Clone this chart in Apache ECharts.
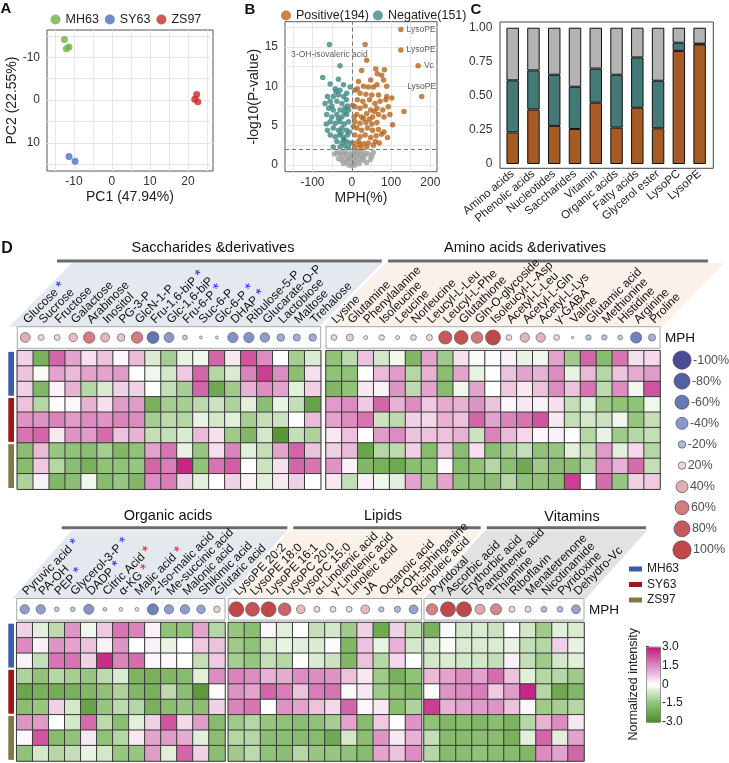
<!DOCTYPE html>
<html>
<head>
<meta charset="utf-8">
<title>Metabolite chart</title>
<script src="https://cdn.jsdelivr.net/npm/echarts@6.0.0/dist/echarts.min.js"></script>
<style>
html,body{margin:0;padding:0;background:#fff;}
#chart{width:729px;height:763px;}
</style>
</head>
<body>
<div id="chart"></div>
<script>
// ================= DATA =================
// ---- Panel A: PCA scores ----
const pcaMH63 = [[-12.5,-14.2],[-12.0,-12.0],[-11.3,-12.4]];
const pcaSY63 = [[-11.3,13.2],[-9.7,14.3]];
const pcaZS97 = [[22.3,-1.3],[21.8,-0.2],[22.6,0.4]];
const pcaXLabels = [-10,0,10,20];
const pcaYLabels = [-10,0,10];
const pcaXGrid = [-15,-10,-5,0,5,10,15,20,25];
const pcaYGrid = [-15,-10,-5,0,5,10,15];

// ---- Panel B: volcano (MPH %, -log10 P) ----
const volcanoPositive = [
 [34,15.3],[38,13.3],[25,12.0],[61,12.2],[83,12.1],[65,11.6],[76,11.4],[17,10.6],[48,10.8],[64,10.2],
 [81,10.8],[30,10.0],[42,9.9],[55,9.9],[89,10.0],[8,9.5],[21,9.1],[36,9.0],[51,8.9],[68,8.9],
 [89,8.7],[14,8.3],[28,8.1],[45,8.3],[59,7.8],[72,8.1],[87,8.3],[102,8.5],[8,7.4],[21,7.2],
 [34,7.5],[48,7.0],[64,7.2],[79,7.0],[93,7.4],[13,6.4],[25,6.1],[38,6.5],[53,6.1],[68,6.4],
 [82,6.1],[8,5.5],[21,5.3],[36,5.4],[51,5.2],[64,5.4],[13,4.7],[25,4.4],[40,4.7],[53,4.4],
 [68,4.5],[82,4.2],[8,3.8],[21,3.6],[34,3.8],[48,3.5],[62,3.7],[76,3.9],[91,3.5],[4,2.8],
 [17,3.0],[30,2.7],[42,2.8],[55,2.5],[70,2.8],[8,2.3],[23,2.2],[38,2.3],[4,4.9],[6,6.1],
 [14,9.7],[2,7.6],[104,5.1],[97,6.4],[133,6.8],[30,5.9],[45,5.8],[58,6.8],[19,2.6],[60,3.0]
];
const volcanoLabeledPos = [['LysoPE',125,17.2],['LysoPE',125,14.6],['Vc',169,12.6],['LysoPE',178,8.7]];
const volcanoNegative = [
 [-30,12.6],[-74,11.1],[-34,10.9],[-4,9.9],[-55,10.3],[-42,9.7],[-30,9.5],[-21,10.2],[-62,8.7],[-47,8.7],
 [-34,8.9],[-21,8.7],[-13,9.1],[-68,7.8],[-55,8.1],[-38,8.1],[-25,7.8],[-14,8.3],[-59,7.2],[-47,7.0],
 [-30,7.0],[-17,7.2],[-8,7.0],[-64,6.4],[-51,6.1],[-38,6.4],[-25,6.1],[-13,6.4],[-65,5.2],[-55,5.5],
 [-42,5.3],[-30,5.5],[-19,5.2],[-8,5.5],[-62,4.4],[-47,4.7],[-34,4.4],[-25,4.7],[-14,4.4],[-6,4.2],
 [-55,3.8],[-42,3.6],[-31,3.8],[-21,3.5],[-11,3.8],[-38,3.0],[-25,2.8],[-14,3.0],[-4,2.8],[-30,2.3],
 [-17,2.4],[-8,2.2],[-47,2.3],[-21,3.2],[-34,5.9],[-19,6.7],[-11,7.5],[-51,7.5],[-40,9.3],[-27,4.1]
];
const volcanoLabeledNeg = [['3-OH-isovaleric acid',-57,15.3]];
const volcanoNS = [
 [-38,1.6],[-30,1.3],[-21,1.1],[-13,1.4],[-4,1.1],[4,1.4],[13,1.1],[21,1.3],[31,1.1],[42,1.4],
 [51,1.1],[-25,0.6],[-14,0.4],[-6,0.7],[3,0.3],[11,0.6],[19,0.2],[30,0.6],[38,0.3],[-17,1.7],
 [8,1.7],[25,1.7],[-34,0.8],[-8,0.0],[0,-0.1],[8,0.0],[-21,0.2],[21,0.7],[47,0.7],[-44,1.4],
 [55,1.6],[4,0.8],[14,1.6],[-11,0.8],[-2,1.5],[27,1.0],[35,1.5],[-27,1.6]
];
const volcanoXLabels = [-100,0,100,200];
const volcanoYLabels = [0,5,10,15];
const volcanoXGrid = [-150,-100,-50,0,50,100,150,200];
const volcanoYGrid = [0,2.5,5,7.5,10,12.5,15,17.5];
const mphCut = 0;
const pCut = 2;

// ---- Panel C: proportions ----
const compCategories = ['Amino acids','Phenolic acids','Nucleotides','Saccharides','Vitamin','Organic acids','Fatty acids','Glycerol ester','LysoPC','LysoPE'];
const compPositive = [0.232,0.400,0.280,0.257,0.450,0.267,0.413,0.262,0.830,0.878];
const compNegative = [0.382,0.287,0.375,0.310,0.250,0.388,0.369,0.349,0.060,0.005];
const compOther    = [0.386,0.313,0.345,0.433,0.300,0.345,0.218,0.389,0.110,0.117];
const compYLabels = [0,0.25,0.5,0.75,1];

// ---- Panel D: heatmap ----
const groupNames = ['MH63','SY63','ZS97'];

const saccNames = ['Glucose','Sucrose','Fructose','Galactose','Arabinose','Inositol','PG-3-P','GlcN-1-P','Fru-1,6-biP','Glc-1,6-biP','Fru-6-P','Suc-6-P','Glc-6-P','DHAP','Ribulose-5-P','Glucarate-O-P','Lactobiose','Maltose','Trehalose'];
const saccMPH = [40,18,18,32,60,35,28,60,-65,-40,-13,-4,-4,-45,-45,-38,-27,-25,-27];
const saccSig = ['b','','','','','','','','b','','b','','b','b','','','','',''];
const saccRows = [
 [0.6,-2,2,1.2,0.4,0.8,0.1,0.9,-0.5,-1.2,-0.3,-0.2,2,0.3,2.2,1.5,0,-1.2,-0.5],
 [0.8,-0.1,1.2,0.9,1.2,1.2,1.3,0,-0.2,-0.6,0.7,2.0,-1,-0.5,1.6,2.5,1.5,-1.6,0.4],
 [0.6,-1.8,0.2,1.0,-1.0,-0.5,0.6,0.6,0,-0.8,-1.2,2.0,-2.2,-1.3,1.0,1.5,1.2,-0.4,0.6],
 [0.8,-1.0,0,0.1,1.0,0.4,1.3,1.3,-2.0,-1.2,-1.2,-0.9,-0.7,-1.1,-0.4,-1.6,-0.3,-0.8,-2.4],
 [1.4,1.4,1.6,1.3,1.5,1.4,1.6,1.5,-1.2,-0.9,-1.0,-0.3,-0.6,-0.4,-1.2,-0.8,-0.7,0,0.9],
 [1.8,2.0,0.3,1.4,1.3,1.9,0.8,1.0,-0.8,-0.8,-0.5,0.9,0.4,-1.3,-1.8,-0.6,-2.7,-0.8,-1.1],
 [-1.6,0.9,-1.4,-1.5,-1.6,-1.2,-1.8,-1.5,1.2,1.8,-0.3,-1.4,0.4,1.6,-0.4,-0.8,1.2,2.0,0.8],
 [-1.7,0.7,-1.0,-1.6,-2.0,-1.5,-1.5,-1.4,2.0,1.7,2.8,-1.5,1.8,2.1,0,-0.7,0.4,2.0,1.8],
 [-1.1,0.2,-1.8,-1.6,-0.2,-1.7,-1.4,-1.8,1.5,1.7,0.6,-0.4,0,0.6,0.2,-0.4,0.3,0.6,0]
];

const aminoNames = ['Lysine','Glutamine','Phenylalanine','Isoleucine','Leucine','Norleucine','Leucyl-L-Leu','Leucyl-L-Phe','Glutathione','Gln-O-glycoside','Isoleucyl-L-Asp','Acetyl-L-Leu','Acetyl-L-Gln','Acetyl-L-Lys','γ-GABA','Valine','Glutamic acid','Methionine','Histidine','Arginine','Proline'];
const aminoMPH = [18,25,9,17,9,18,20,80,87,62,100,18,37,37,18,-2,-16,-16,-13,-55,-25];
const aminoSig = aminoNames.map(() => '');
const aminoRows = [
 [-1.5,-0.9,0.8,-0.6,-0.2,-1.8,1.2,-1.3,0.4,-0.1,0.05,0.2,-0.3,-0.2,1.2,-1.3,2.0,-1.7,1.8,0.4,0.5],
 [-1.5,-1.5,0,0.9,1.3,-1.0,1.0,-1.6,1.2,-0.3,0,0.8,1.2,1.0,1.5,-0.3,0.9,-1.0,0.8,1.1,1.3],
 [-1.8,-1.5,0.3,0.2,1.4,-0.9,1.2,-1.7,-0.2,1.2,0,0.7,0.3,0.8,1.5,0.8,1.8,-0.9,1.5,-0.2,2.2],
 [1.3,1.5,0.7,2.0,1.0,1.5,0.7,1.1,1.0,1.4,0.8,0.1,0.3,0.2,0.4,-0.8,-0.4,-1.3,-1.5,-1.5,-0.2],
 [1.2,1.5,1.8,-0.7,-0.9,0.6,0.5,1.0,0.8,2.0,1.2,1.6,1.8,2.2,0.3,-0.8,-0.6,-0.7,-0.2,-1.4,-0.8],
 [0.3,0.8,0,1.3,1.5,0.8,0.8,0.8,1.0,-0.7,1.6,0.9,0.5,0.1,0.2,0,-1.0,-0.3,-1.3,-1.0,-0.8],
 [0.6,0.9,-2.3,-1.0,-0.9,0.6,-1.7,0.7,-1.6,0.4,-1.6,-1.2,-0.8,-1.5,-1.4,-0.4,-0.8,1.3,-0.4,0.5,-1.0],
 [1.4,0.2,-1.8,-2.0,-2.2,-1.6,-1.5,0.05,-1.7,-1.5,-1.0,-1.6,-2.2,-1.3,-1.6,-1.6,-1.0,1.5,1.0,1.9,-0.8],
 [0.3,-0.8,0.2,-0.2,-0.4,1.2,-1.3,1.2,-1.5,-1.5,-1.6,-1.0,-1.5,-1.5,-1.6,2.5,0,1.9,-1.4,0.6,0.7]
];

const organicNames = ['Pyruvic acid','PA-OH','PEP','Glycerol-3-P','DADP','Citric Acid','α-KG','Malic acid','2-Iso-malic acid','Me-succinic acid','Malonic acid','Shikimic acid','Glutaric acid'];
const organicMPH = [-37,-37,-13,-13,-42,-8,8,8,-55,-37,-37,-33,22];
const organicSig = ['b','','b','b','b','r','r','r','','','','',''];
const organicRows = [
 [0.6,-0.4,-0.9,1.4,-0.2,0.7,1.8,1.6,0.2,-1.5,-1.5,1.2,-1.0],
 [1.5,0.2,1.4,1.2,0.8,0.2,1.4,0,0.2,-0.3,0,0.7,0.8],
 [0.2,-0.8,1.8,1.8,0.6,2.7,1.6,1.9,0.1,0.1,0,-0.8,0.7],
 [-1.1,-1.5,-1.0,-1.2,-1.4,-0.9,-0.5,-1.9,-2.0,-1.8,-1.7,-0.4,1.5],
 [-2.3,-2.0,-2.1,-2.0,-1.8,-1.5,-1.1,-1.8,-2.0,-0.9,-1.6,-2.6,0.05],
 [-1.6,-1.4,0.6,-0.6,-2.4,-1.4,-0.9,-1.0,-2.0,-1.6,-1.4,-1.6,0.6],
 [1.4,1.3,0,-0.6,1.9,-0.9,-1.6,-0.4,0.6,2.2,0.5,1.3,-1.7],
 [0.1,2.2,-1.7,-1.5,0.3,-1.5,-1.0,0.3,1.2,1.3,1.1,-0.4,-1.6],
 [-1.5,-0.6,-1.0,-0.8,-0.3,-0.6,-1.4,-1.4,1.3,-0.4,2.0,0.6,-1.6]
];

const lipidNames = ['LysoPE 20:2','LysoPE 18:0','LysoPE 16:1','LysoPC 20:0','LysoPC 15:0','α-Linolenic acid','γ-Linolenic acid','Linoleic acid','JA','Octanoic acid','4-OH-sphinganine','Ricinoleic acid'];
const lipidMPH = [100,88,100,74,34,19,19,19,34,-16,-20,-34];
const lipidSig = lipidNames.map(() => '');
const lipidRows = [
 [-1.4,-1.6,0.1,-0.4,0,-0.8,-0.6,-1.3,0.6,-2.2,0.6,-0.8],
 [-1.3,-1.5,-0.6,-0.3,-0.4,-0.5,0.05,-1.8,0.8,-0.3,1.0,-0.6],
 [-1.2,-1.4,-0.8,-1.0,0,-0.5,-0.7,-1.8,0.8,-1.0,0.5,0],
 [1.6,1.5,1.0,1.1,1.5,1.5,1.4,0.8,0.3,-1.3,-2.0,-1.5],
 [1.4,1.2,2.0,1.7,0.8,1.7,1.8,0.1,0.3,-1.3,-1.6,-1.8],
 [1.6,1.8,0,1.4,1.2,0.8,0.5,2.0,0.1,0.3,-1.6,-1.1],
 [-1.3,-1.0,-1.4,-1.5,-1.6,-1.5,-1.2,1.2,-1.7,0.7,0,1.4],
 [-1.0,-1.0,-1.6,-1.6,-1.7,-1.7,-2.2,-0.6,-1.6,1.4,0.3,1.0],
 [-1.3,-0.9,-1.5,-1.6,-1.0,-1.4,-1.4,-1.5,-1.7,1.2,0.8,1.5]
];

const vitaminNames = ['Pyridoxal','Ascorbic acid','Erythorbic acid','Pantothenic acid','Thiamine','Riboflavin','Menatetrenone','Nicotinamide','Pyridoxine','Dehydro-Vc'];
const vitaminMPH = [58,100,100,42,55,20,20,-18,-18,-34];
const vitaminSig = vitaminNames.map(() => '');
const vitaminRows = [
 [-2.0,-0.1,-0.6,-0.5,-0.7,0,-0.6,-1.3,-0.4,-0.5],
 [-0.5,-0.1,-0.5,-0.5,-0.5,-0.3,-0.8,-1.0,0.6,-0.3],
 [-0.6,-0.5,-0.6,-0.6,-0.8,0.2,-0.8,-1.3,-0.6,-0.4],
 [0.9,1.2,1.5,1.2,1.9,0.8,-0.4,-1.0,-1.0,-1.3],
 [0.05,1.4,1.5,1.7,0.7,1.3,2.8,-1.0,-2.2,-1.8],
 [2.5,1.0,1.2,1.3,1.4,0.8,0.1,-1.3,-1.2,-1.0],
 [-1.5,-1.8,-1.7,-1.8,-1.6,-1.9,-1.0,1.0,1.5,0.3],
 [-0.8,-1.7,-1.7,-1.6,-1.6,-2.0,-0.4,2.0,-0.4,1.2],
 [-1.0,-1.7,-1.6,-1.5,-1.6,-1.7,-1.8,1.5,1.2,2.0]
];

const mphLegendValues = [-100,-80,-60,-40,-20,20,40,60,80,100];
const intensityTicks = [-3,-1.5,0,1.5,3];

// ================= STYLE / HELPERS =================
const FONT = '"Liberation Sans", Arial, Helvetica, sans-serif';
const C_MH63 = '#6db33f', C_SY63 = '#4b6fc2', C_ZS97 = '#cc2a2a';
const C_POS = '#b5651d', C_NEG = '#3c8884', C_NS = '#a0a0a0';
const C_BAR_POS = '#a65a24', C_BAR_NEG = '#437a77', C_BAR_OTH = '#b3b3b3';
const groupColors = ['#3a5dae','#9e1616','#7f7a45'];
const heatColors = ['#4a8c25','#90c278','#ffffff','#dc8cc0','#c2177a'];

function hex2rgb(h){return [1,3,5].map(i=>parseInt(h.slice(i,i+2),16));}
function rgb2hex(a){return '#'+a.map(v=>Math.round(v).toString(16).padStart(2,'0')).join('');}
function interpColor(stops, v){
  if (v<=stops[0][0]) return stops[0][1];
  for (let i=1;i<stops.length;i++){
    if (v<=stops[i][0]){
      const t=(v-stops[i-1][0])/(stops[i][0]-stops[i-1][0]);
      const a=hex2rgb(stops[i-1][1]), b=hex2rgb(stops[i][1]);
      return rgb2hex(a.map((x,k)=>x+(b[k]-x)*t));
    }
  }
  return stops[stops.length-1][1];
}
function interpNum(stops, v){
  if (v<=stops[0][0]) return stops[0][1];
  for (let i=1;i<stops.length;i++){
    if (v<=stops[i][0]){
      const t=(v-stops[i-1][0])/(stops[i][0]-stops[i-1][0]);
      return stops[i-1][1]+(stops[i][1]-stops[i-1][1])*t;
    }
  }
  return stops[stops.length-1][1];
}
const mphColorStops = [[-100,'#1b1f7b'],[-80,'#273a8f'],[-60,'#3f5aa8'],[-40,'#6b80c1'],[-20,'#9aa7d7'],[0,'#eeeef2'],[20,'#e7cdd0'],[40,'#d99a9e'],[60,'#c85c60'],[80,'#b92f33'],[100,'#b21a1c']];
const mphSizeStops = [[0,2.5],[20,7.5],[40,12],[60,14],[80,16],[100,18.3]];
function mphColor(v){return interpColor(mphColorStops, Math.max(-100,Math.min(100,v)));}
function mphSize(v){return interpNum(mphSizeStops, Math.min(100,Math.abs(v)));}

const grids=[], xAxes=[], yAxes=[], series=[], heatIdx=[];
function addCoord(g, x, y){
  const gi = grids.push(g)-1;
  const xi = xAxes.push(Object.assign({gridIndex:gi}, x))-1;
  const yi = yAxes.push(Object.assign({gridIndex:gi}, y))-1;
  return {gi, xi, yi};
}
const hidden = {show:false};
const tickLabel = {fontSize:12, color:'#333'};

// ================= PANEL A =================
const A = addCoord(
  {left:47, top:30, width:166, height:141, show:true, borderColor:'#555', borderWidth:1},
  {type:'value', min:-17.1, max:26.6, axisLine:{show:false},
   axisTick:{show:false, customValues:pcaXGrid},
   axisLabel:Object.assign({customValues:pcaXLabels, margin:5}, tickLabel),
   splitLine:{show:true, lineStyle:{color:'#e6e6e6', width:1}},
   name:'PC1 (47.94%)', nameLocation:'middle', nameGap:19, nameTextStyle:{fontSize:14, color:'#222'}},
  {type:'value', inverse:true, min:-16.4, max:16.6, axisLine:{show:false},
   axisTick:{show:false, customValues:pcaYGrid},
   axisLabel:Object.assign({customValues:pcaYLabels, margin:7}, tickLabel),
   splitLine:{show:true, lineStyle:{color:'#e6e6e6', width:1}},
   name:'PC2 (22.55%)', nameLocation:'middle', nameGap:26, nameTextStyle:{fontSize:14, color:'#222'}}
);
[['MH63',pcaMH63,C_MH63],['SY63',pcaSY63,C_SY63],['ZS97',pcaZS97,C_ZS97]].forEach(([n,d,c])=>{
  series.push({type:'scatter', name:n, xAxisIndex:A.xi, yAxisIndex:A.yi, data:d, symbolSize:7, itemStyle:{color:c}});
});

// ================= PANEL B =================
const B = addCoord(
  {left:285, top:21.7, width:152, height:150, show:true, borderColor:'#555', borderWidth:1},
  {type:'value', min:-170, max:217, axisLine:{show:false},
   axisTick:{show:false, customValues:volcanoXGrid},
   axisLabel:Object.assign({customValues:volcanoXLabels, margin:5}, tickLabel),
   splitLine:{show:true, lineStyle:{color:'#e6e6e6'}},
   name:'MPH(%)', nameLocation:'middle', nameGap:19, nameTextStyle:{fontSize:14, color:'#222'}},
  {type:'value', min:-0.85, max:18.2, axisLine:{show:false},
   axisTick:{show:false, customValues:volcanoYGrid},
   axisLabel:Object.assign({customValues:volcanoYLabels, margin:7}, tickLabel),
   splitLine:{show:true, lineStyle:{color:'#e6e6e6'}},
   name:'-log10(P-value)', nameLocation:'middle', nameGap:24, nameTextStyle:{fontSize:14, color:'#222'}}
);
const labelSmall = {show:true, formatter:'{b}', fontSize:8.5, color:'#333', distance:3};
const posLabelPlace = ['right','right','right','top'];
series.push({type:'scatter', name:'NS', xAxisIndex:B.xi, yAxisIndex:B.yi, data:volcanoNS, symbolSize:5.5, itemStyle:{color:C_NS},
  markLine:{silent:true, symbol:'none', label:{show:false}, lineStyle:{type:[4,3], color:'#777', width:1},
    data:[{xAxis:mphCut},{yAxis:pCut}]}});
series.push({type:'scatter', name:'Negative(151)', xAxisIndex:B.xi, yAxisIndex:B.yi, symbolSize:5.5, itemStyle:{color:C_NEG},
  data:volcanoNegative.concat(volcanoLabeledNeg.map(d=>({name:d[0], value:[d[1],d[2]], label:Object.assign({position:'bottom'}, labelSmall)})))});
series.push({type:'scatter', name:'Positive(194)', xAxisIndex:B.xi, yAxisIndex:B.yi, symbolSize:5.5, itemStyle:{color:C_POS},
  data:volcanoPositive.concat(volcanoLabeledPos.map((d,i)=>({name:d[0], value:[d[1],d[2]], label:Object.assign({position:posLabelPlace[i]}, labelSmall)})))});

// ================= PANEL C =================
addCoord({left:500, top:22, width:213.3, height:146.3, show:true, borderColor:'#444', borderWidth:1},
  {type:'value', show:false, min:0, max:1}, {type:'value', show:false, min:0, max:1});
const Cc = addCoord(
  {left:502.3, top:22, width:207.7, height:146.3},
  {type:'category', data:compCategories, axisLine:{show:false}, axisTick:{show:false},
   axisLabel:{interval:0, rotate:40, fontSize:11.5, color:'#222', margin:4}},
  {type:'value', min:-0.0315, max:1.042, axisLine:{show:false}, splitLine:{show:false},
   axisTick:{show:false, customValues:compYLabels},
   axisLabel:Object.assign({customValues:compYLabels, margin:10, formatter:v=> v===0 ? '0' : v.toFixed(2)}, tickLabel)}
);
[['comp-pos',compPositive,C_BAR_POS],['comp-neg',compNegative,C_BAR_NEG],['comp-oth',compOther,C_BAR_OTH]].forEach(([n,d,c])=>{
  series.push({type:'bar', name:n, stack:'comp', xAxisIndex:Cc.xi, yAxisIndex:Cc.yi, data:d, barWidth:'60%',
    itemStyle:{color:c, borderColor:'#111', borderWidth:1}});
});

// ================= PANEL D =================
const blocks = [
  {names:saccNames, mph:saccMPH, sig:saccSig, rows:saccRows, x:17.3, w:303.4, top:326.7},
  {names:aminoNames, mph:aminoMPH, sig:aminoSig, rows:aminoRows, x:326, w:334, top:326.7},
  {names:organicNames, mph:organicMPH, sig:organicSig, rows:organicRows, x:16.7, w:208.3, top:598.5},
  {names:lipidNames, mph:lipidMPH, sig:lipidSig, rows:lipidRows, x:228.3, w:193.3, top:598.5},
  {names:vitaminNames, mph:vitaminMPH, sig:vitaminSig, rows:vitaminRows, x:424, w:160, top:598.5}
];
const MPH_H = 21.6, HM_OFF = 24, HM_H = 138.5, ROW_SCALE = 0.82;
const rowIds = ['1','2','3','4','5','6','7','8','9'];
blocks.forEach(b=>{
  const M = addCoord(
    {left:b.x, top:b.top, width:b.w, height:MPH_H, show:true, borderColor:'#a8a8a8', borderWidth:1},
    {type:'category', data:b.names, position:'top', axisLine:{show:false}, axisTick:{show:false},
     axisLabel:{interval:0, rotate:45, fontSize:12, color:'#111', margin:5,
       formatter:(v,i)=> b.sig[i] ? v+' {'+b.sig[i]+'|*}' : v,
       rich:{b:{color:'#2a2aff', fontSize:15}, r:{color:'#e3221d', fontSize:15}}}},
    {type:'value', min:0, max:1, show:false}
  );
  series.push({type:'scatter', name:'mph', xAxisIndex:M.xi, yAxisIndex:M.yi,
    data:b.mph.map((v,i)=>[i,0.5,v]),
    symbolSize:val=>ROW_SCALE*mphSize(val[2]),
    itemStyle:{color:p=>mphColor(p.data[2]), borderColor:'#555', borderWidth:0.8}});
  const H = addCoord(
    {left:b.x, top:b.top+HM_OFF, width:b.w, height:HM_H, show:true, borderColor:'#9a9a9a', borderWidth:1},
    {type:'category', data:b.names, show:false},
    {type:'category', data:rowIds, inverse:true, show:false}
  );
  const data=[];
  b.rows.forEach((row,r)=>row.forEach((v,c)=>data.push([c,r,v])));
  heatIdx.push(series.length);
  series.push({type:'heatmap', name:'intensity', xAxisIndex:H.xi, yAxisIndex:H.yi, data,
    itemStyle:{borderColor:'#3a3a3a', borderWidth:1}, emphasis:{disabled:true}});
});
// group annotation bars
[326.7+HM_OFF, 598.5+HM_OFF].forEach(top=>{
  const G = addCoord({left:8.3, top, width:5.7, height:HM_H},
    {type:'value', min:0, max:1, show:false},
    {type:'category', data:groupNames, inverse:true, show:false});
  groupNames.forEach((g,k)=>{
    series.push({type:'bar', name:g+' group', stack:'grp'+G.gi, xAxisIndex:G.xi, yAxisIndex:G.yi, barWidth:'95%',
      itemStyle:{color:groupColors[k]}, data:groupNames.map((_,j)=>j===k?1:'-')});
  });
});
// MPH size legend
const L = addCoord({left:681.5, top:349.5, width:1, height:211},
  {type:'value', min:0, max:1, show:false},
  {type:'category', data:mphLegendValues.map(String), inverse:true, show:false});
series.push({type:'scatter', name:'mph-legend', xAxisIndex:L.xi, yAxisIndex:L.yi,
  data:mphLegendValues.map((v,i)=>[0.5,i,v]), symbolSize:val=>mphSize(val[2]),
  itemStyle:{color:p=>mphColor(p.data[2]), borderColor:'#444', borderWidth:0.8},
  label:{show:true, position:'right', distance:1.5, formatter:p=>p.data[2]+'%', fontSize:12.5, color:'#222'}});
// colour-bar axis
const cbGrid = grids.push({left:646, top:646.7, width:14, height:75})-1;
xAxes.push({gridIndex:cbGrid, type:'value', show:false, min:0, max:1});
yAxes.push({gridIndex:cbGrid, type:'value', position:'right', min:-3, max:3, interval:1.5,
  axisLine:{show:false}, splitLine:{show:false},
  axisTick:{show:true, length:3, lineStyle:{color:'#333'}},
  axisLabel:{margin:2, fontSize:12, color:'#222', formatter:v=> (v===3||v===-3) ? v.toFixed(1) : String(v)}});
yAxes.push({gridIndex:cbGrid, type:'value', position:'left', min:-3, max:3,
  axisLine:{show:false}, axisTick:{show:false}, axisLabel:{show:false}, splitLine:{show:false},
  name:'Normalized intensity', nameLocation:'middle', nameGap:6, nameTextStyle:{fontSize:12.5, color:'#222'}});

// ================= GRAPHICS (decoration + titles) =================
const g = [];
const poly = (pts, fill)=>g.push({type:'polygon', z:-5, silent:true, shape:{points:pts}, style:{fill}});
poly([[9,326.7],[319,326.7],[382,263],[72,263]], '#e4e9ef');
poly([[322,326.7],[662,326.7],[725,263],[385,263]], '#faf2ea');
poly([[12,598.5],[226.5,598.5],[287.3,530.5],[71.7,530.5]], '#e4e9ef');
poly([[228.5,598.5],[422,598.5],[482,530.5],[289.5,530.5]], '#faf2ea');
poly([[424,598.5],[586,598.5],[647,530.5],[485,530.5]], '#e2e2e2');
const line = (x1,y,x2)=>g.push({type:'line', silent:true, shape:{x1,y1:y,x2,y2:y}, style:{stroke:'#6b6b6b', lineWidth:3}});
line(57,261,381.7); line(388,261,708);
line(61.7,527.7,287.3); line(293.3,527.7,480.7); line(486.7,527.7,646);
const txt = (text,x,y,size,opts={})=>g.push({type:'text', silent:true,
  style:Object.assign({text,x,y,fontSize:size,fontFamily:FONT,fill:'#111',textAlign:'center',textVerticalAlign:'middle'},opts)});
txt('A',6,9,15,{fontWeight:'bold'});
txt('B',250,10,15,{fontWeight:'bold'});
txt('C',476,10,15,{fontWeight:'bold'});
txt('D',7,249,16,{fontWeight:'bold'});
txt('Saccharides &derivatives',213,248,14.5);
txt('Amino acids &derivatives',525,248,14.5);
txt('Organic acids',168,516,14.5);
txt('Lipids',383,516,14.5);
txt('Vitamins',572,516.5,14.5);
txt('MPH',665,338,13.5,{textAlign:'left'});
txt('MPH',589,610,13.5,{textAlign:'left'});

// ================= OPTION =================
const option = {
  animation:false,
  textStyle:{fontFamily:FONT},
  grid:grids, xAxis:xAxes, yAxis:yAxes, series,
  legend:[
    {data:['MH63','SY63','ZS97'], left:50.5, top:13, padding:0, icon:'circle', itemWidth:10, itemHeight:10, itemGap:6,
     textStyle:{fontSize:12.5, color:'#222'}, selectedMode:false},
    {data:['Positive(194)','Negative(151)'], left:281, top:9, padding:0, icon:'circle', itemWidth:10, itemHeight:10, itemGap:4,
     textStyle:{fontSize:12.5, color:'#222'}, selectedMode:false},
    {data:groupNames.map(n=>n+' group'), orient:'vertical', left:629, top:563, padding:0, icon:'rect',
     itemWidth:13, itemHeight:5, itemGap:3.5, formatter:n=>n.replace(' group',''),
     textStyle:{fontSize:12, color:'#222'}, selectedMode:false}
  ],
  visualMap:{type:'continuous', min:-3, max:3, seriesIndex:heatIdx, dimension:2, calculable:false, realtime:false,
    hoverLink:false, orient:'vertical', left:646, top:646.7, itemWidth:14, itemHeight:75, padding:0,
    borderColor:'#666', borderWidth:1, inRange:{color:heatColors}, text:null, show:true},
  graphic:{elements:g}
};
const chart = echarts.init(document.getElementById('chart'), null, {renderer:'canvas'});
chart.setOption(option);
</script>
</body>
</html>
